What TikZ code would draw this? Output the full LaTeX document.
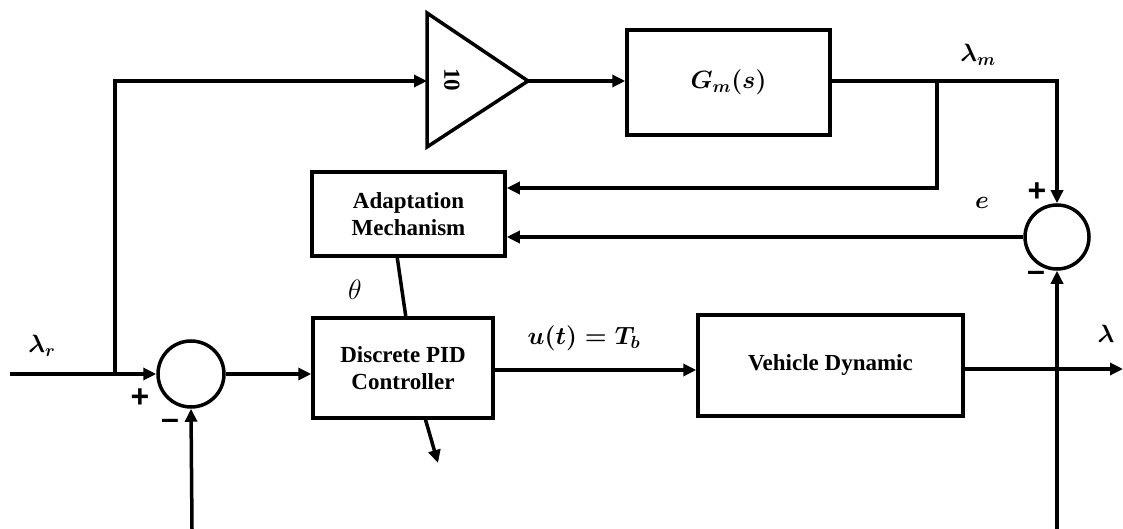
\RequirePackage{fix-cm}
\documentclass[tikz,border=0pt]{standalone}
\usepackage{amsmath}
\usepackage{fontspec}
\setmainfont{Liberation Serif}
\newfontfamily\signfont{Liberation Sans}
\usetikzlibrary{arrows.meta}
\tikzset{
  blk/.style={draw, line width=3.5pt, rectangle, inner sep=0pt, align=center,
    font=\fontsize{23}{27}\selectfont\bfseries},
  sumc/.style={draw, line width=3.5pt, circle, inner sep=0pt},
  wire/.style={line width=3.5pt},
  arr/.style={wire, -{Triangle[length=13pt,width=12pt]}},
  lbl/.style={font=\fontsize{25}{29}\selectfont},
  sgn/.style={font=\fontsize{32}{32}\signfont\bfseries, inner sep=0pt}
}
\begin{document}
\begin{tikzpicture}[x=1pt,y=-1pt]
\useasboundingbox (0,0) rectangle (1123,529);
% blocks
\node[sumc, minimum size=66pt] (s1) at (191,374) {};
\node[sumc, minimum size=64pt] (s2) at (1057,237) {};
\node[blk, minimum width=180pt, minimum height=100pt] (pid) at (403,368) {Discrete PID\\Controller};
\node[blk, minimum width=193pt, minimum height=84pt] (ad) at (408.5,214) {Adaptation\\Mechanism};
\node[blk, minimum width=203pt, minimum height=105pt] (gm) at (728.5,82.5) {\fontsize{25}{29}\selectfont$\boldsymbol{G_m(s)}$};
\node[blk, minimum width=265pt, minimum height=101pt] (veh) at (830.5,365.5) {Vehicle Dynamic};
% gain triangle
\coordinate (ttop) at (427,13);
\coordinate (tbot) at (427,147);
\coordinate (tin) at (427,81);
\coordinate (tout) at (528,81);
\draw[wire, line join=miter] (ttop) -- (tout) -- (tbot) -- cycle;
\node[font=\fontsize{23}{23}\selectfont\bfseries, rotate=-90] (ten) at (452,80) {10};
% coordinates
\coordinate (in) at (10,374);
\coordinate (j1) at (115,374);
\coordinate (j2) at (937,81);
\coordinate (fb1) at (192,529);
\coordinate (fb2) at (1057,529);
\coordinate (out) at (1123,369);
\coordinate (pidout) at (438,463);
% connectors
\draw[arr] (in) -- (s1.west);
\draw[arr] (j1) |- (tin);
\draw[arr] (tout) -- (gm.west |- tout);
\draw[arr] (gm.east |- tout) -| (s2.north);
\draw[arr] (j2) |- (ad.east |- 0,188);
\draw[arr] (s2.west) -- (s2.west -| ad.east);
\draw[wire] (397,256) -- (406,318);
\draw[arr] (425,418) -- (pidout);
\draw[arr] (s1.east) -- (s1.east -| pid.west);
\draw[arr] (pid.east |- 0,370) -- (veh.west |- 0,370);
\draw[arr] (veh.east |- out) -- (out);
\draw[arr] (fb2) -- (s2.south);
\draw[arr] (fb1) -- (s1.south);
% labels
\node[lbl] (lr) at (42,346) {$\boldsymbol{\lambda_r}$};
\node[sgn] (p1) at (140,398) {+};
\node[sgn] (m1) at (170,424) {\textendash};
\node[font=\fontsize{28}{32}\selectfont] (th) at (355,290) {$\theta$};
\node[lbl] (ut) at (584,338) {$\boldsymbol{u(t)=T_b}$};
\node[lbl] (lo) at (1106,334) {$\boldsymbol{\lambda}$};
\node[lbl] (lm) at (978,55) {$\boldsymbol{\lambda_m}$};
\node[lbl] (ee) at (982,203) {$\boldsymbol{e}$};
\node[sgn] (p2) at (1037,192) {+};
\node[sgn] (m2) at (1036,276) {\textendash};
\end{tikzpicture}
\end{document}
